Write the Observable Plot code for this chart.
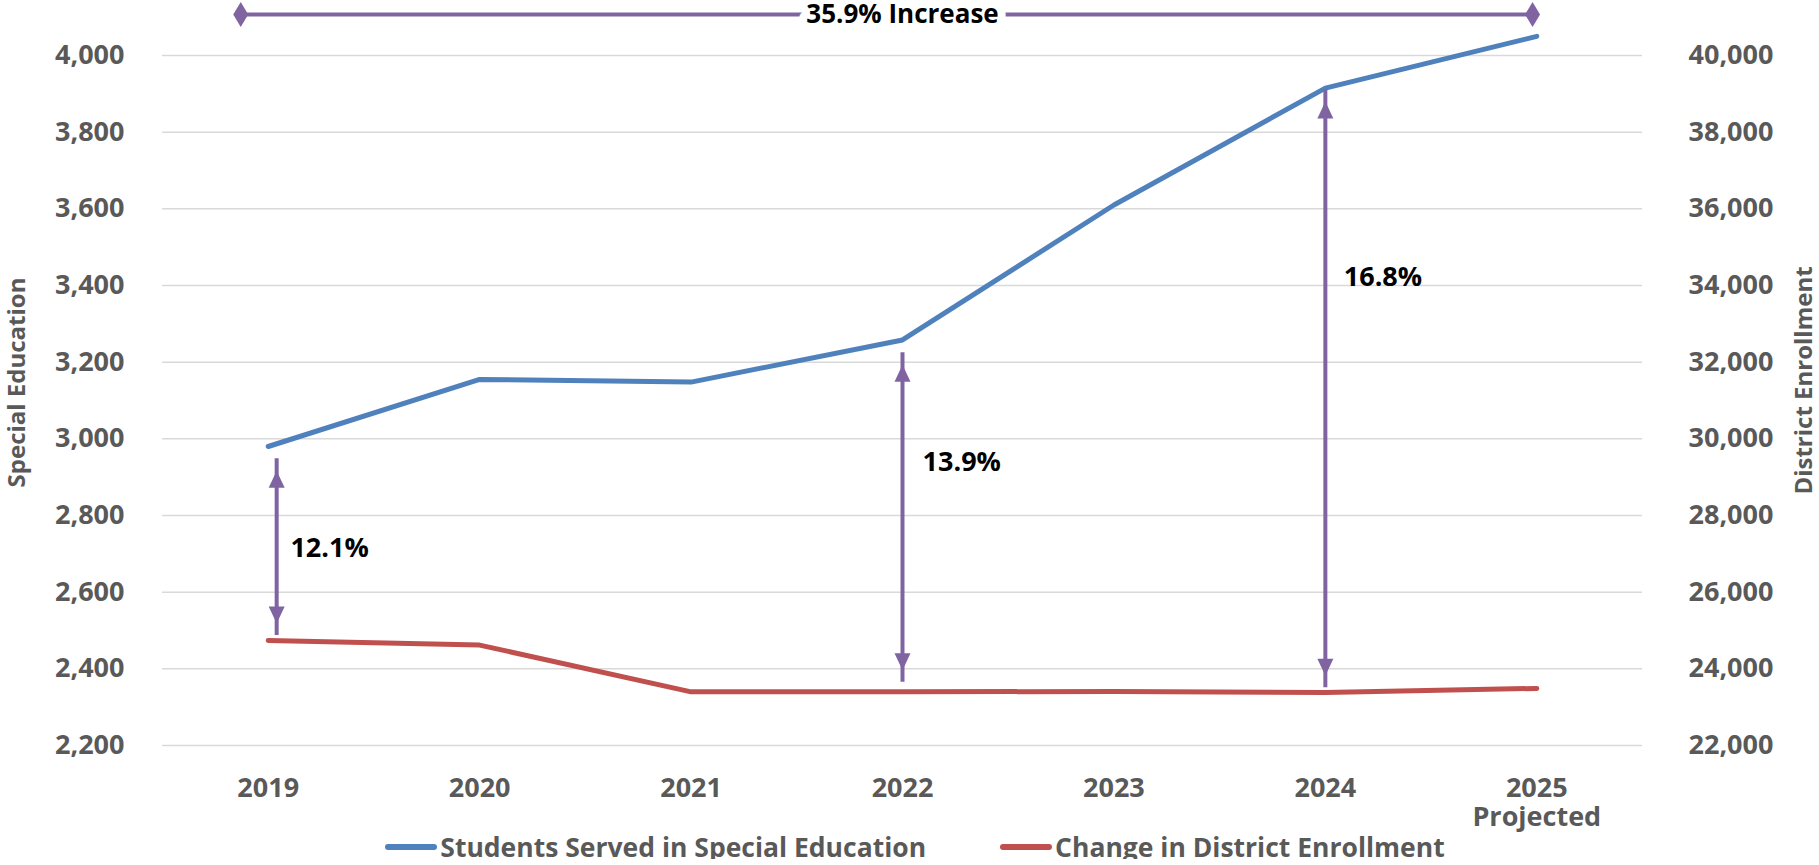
<!DOCTYPE html>
<html><head><meta charset="utf-8">
<script src="https://cdn.jsdelivr.net/npm/d3@7"></script>
<script src="https://cdn.jsdelivr.net/npm/@observablehq/plot@0.6"></script>
<style>
body{margin:0;background:#fff;font-family:"Open Sans",sans-serif;}
#chart svg{display:block;overflow:visible;}
#legend{display:flex;justify-content:center;align-items:center;height:25px;margin-top:-6px;padding-left:11px;font-weight:700;font-size:26.5px;line-height:30px;color:#595959;}
.item{display:flex;align-items:center;margin:0 37px;}
.sw{width:52px;height:6px;border-radius:3px;margin-right:3px;}
</style></head><body><div id="chart"></div><div id="legend"></div>
<script>
// Categories
const years = [2019, 2020, 2021, 2022, 2023, 2024, 2025];
const yearLabels = ["2019", "2020", "2021", "2022", "2023", "2024", "2025\nProjected"];
// Series
const seriesNames = ["Students Served in Special Education", "Change in District Enrollment"];
const seriesColors = ["#4f81bd", "#c0504d"];
const specialEd = [2980, 3155, 3148, 3258, 3610, 3915, 4050];
const enrollment = [24740, 24620, 23400, 23400, 23410, 23380, 23490];
// Axis ticks
const leftTicks = [2200, 2400, 2600, 2800, 3000, 3200, 3400, 3600, 3800, 4000];
const rightTicks = [22000, 24000, 26000, 28000, 30000, 32000, 34000, 36000, 38000, 40000];
const axisTitles = ["Special Education", "District Enrollment"];
// Annotations (data units)
const arrowX = [2019.04, 2022, 2024];
const arrowTop = [2917, 3193, 3880];
const arrowBottom = [2518, 2396, 2382];
const arrowLabels = ["12.1%", "13.9%", "16.8%"];
const arrowLabelX = [2019.105, 2022.095, 2024.087];
const arrowLabelY = [2714, 2939, 3421];
const spanX = [2018.87, 2024.98];
const spanY = 4107;
const spanLabel = "35.9% Increase";
const spanLabelX = 2022;

const purple = "#8064a2";
const grey = "#595959";
const ratio = rightTicks[0] / leftTicks[0];

const table = years.map((y, i) => ({year: y, sped: specialEd[i], enr: enrollment[i]}));
const arrows = arrowX.map((x, i) => ({x, top: arrowTop[i], bottom: arrowBottom[i], label: arrowLabels[i], lx: arrowLabelX[i], ly: arrowLabelY[i]}));

const triUp = {draw(ctx) { ctx.moveTo(0, 0); ctx.lineTo(8, 17); ctx.lineTo(-8, 17); ctx.closePath(); }};
const triDown = {draw(ctx) { ctx.moveTo(0, 0); ctx.lineTo(8, -17); ctx.lineTo(-8, -17); ctx.closePath(); }};
const diamond = {draw(ctx) { ctx.moveTo(0, -12.5); ctx.lineTo(7.5, 0); ctx.lineTo(0, 12.5); ctx.lineTo(-7.5, 0); ctx.closePath(); }};

const chart = Plot.plot({
  width: 1819,
  height: 840,
  marginLeft: 162,
  marginRight: 177,
  marginTop: 55,
  marginBottom: 95,
  style: {fontFamily: "Open Sans", fontWeight: 700, background: "#fff", overflow: "visible"},
  x: {type: "linear", domain: [2018.5, 2025.5]},
  y: {domain: [leftTicks[0], leftTicks[leftTicks.length - 1]]},
  marks: [
    Plot.gridY(leftTicks, {stroke: "#d9d9d9", strokeOpacity: 1, strokeWidth: 1.5}),
    Plot.axisY(leftTicks, {anchor: "left", tickSize: 0, tickPadding: 38, fontSize: 27, fill: grey,
      tickFormat: d3.format(","), label: null}),
    Plot.axisY(leftTicks, {anchor: "right", tickSize: 0, tickPadding: 46, fontSize: 27, fill: grey,
      tickFormat: d => d3.format(",")(d * ratio), label: null}),
    Plot.axisX(years, {anchor: "bottom", tickSize: 0, tickPadding: 30, fontSize: 27, fill: grey, lineHeight: 1.1,
      tickFormat: d => yearLabels[years.indexOf(d)], label: null}),
    Plot.text([axisTitles[0]], {frameAnchor: "left", textAnchor: "middle", lineAnchor: "middle", text: d => d, rotate: -90,
      dx: -145, dy: -18, fontSize: 24, fontWeight: 700, fill: grey}),
    Plot.text([axisTitles[1]], {frameAnchor: "right", textAnchor: "middle", lineAnchor: "middle", text: d => d, rotate: -90,
      dx: 162, dy: -20, fontSize: 24, fontWeight: 700, fill: grey}),
    Plot.line(table, {x: "year", y: "sped", stroke: seriesColors[0], strokeWidth: 5, strokeLinecap: "round", strokeLinejoin: "round"}),
    Plot.line(table, {x: "year", y: d => d.enr / ratio, stroke: seriesColors[1], strokeWidth: 5, strokeLinecap: "round", strokeLinejoin: "round"}),
    // vertical double arrows
    Plot.ruleX(arrows, {x: "x", y1: "bottom", y2: "top", stroke: purple, strokeWidth: 4, insetTop: 12, insetBottom: 12}),
    Plot.dot(arrows, {x: "x", y: "top", symbol: triUp, fill: purple, stroke: "none"}),
    Plot.dot(arrows, {x: "x", y: "bottom", symbol: triDown, fill: purple, stroke: "none"}),
    Plot.text(arrows, {x: "lx", y: "ly", text: "label", textAnchor: "start", fontSize: 27, fontWeight: 700, fill: "#000"}),
    // top span arrow
    Plot.ruleY([spanY], {x1: spanX[0], x2: spanX[1], stroke: purple, strokeWidth: 4}),
    Plot.dot(spanX, {x: d => d, y: () => spanY, symbol: diamond, fill: purple, stroke: "none"}),
    Plot.text([spanLabel], {x: () => spanLabelX, y: () => spanY, text: d => d, fontSize: 26, fontWeight: 700,
      fill: "#000", stroke: "#fff", strokeWidth: 16, paintOrder: "stroke"})
  ]
});
document.getElementById("chart").appendChild(chart);

const legend = document.getElementById("legend");
seriesNames.forEach((name, i) => {
  const item = document.createElement("div");
  item.className = "item";
  const sw = document.createElement("div");
  sw.className = "sw";
  sw.style.background = seriesColors[i];
  const label = document.createElement("span");
  label.textContent = name;
  item.appendChild(sw);
  item.appendChild(label);
  legend.appendChild(item);
});
</script>
</body></html>
